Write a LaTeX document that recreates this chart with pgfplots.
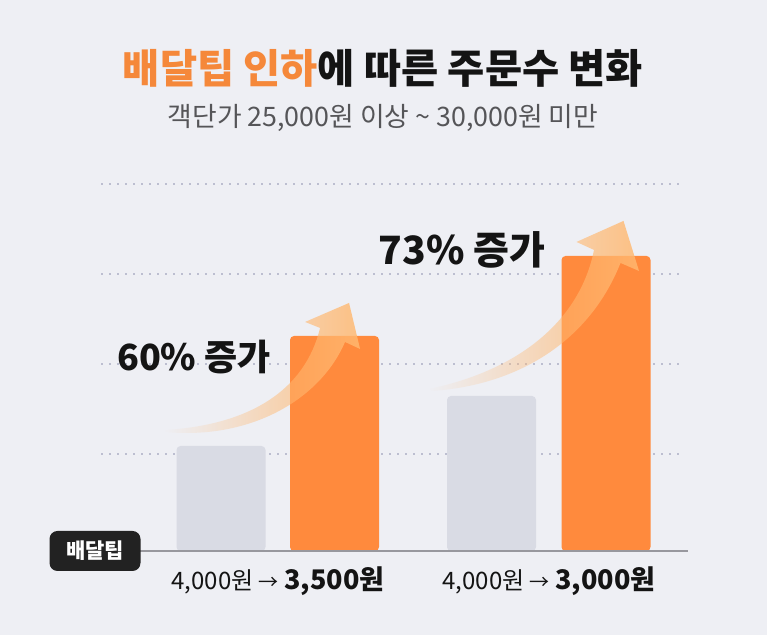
\documentclass[border=0pt]{standalone}
\usepackage{fontspec}
\setmainfont{Noto Sans CJK KR}
\usepackage{pgfplots}
\pgfplotsset{compat=1.18}
\usetikzlibrary{fadings}

\definecolor{bg}{RGB}{238,239,244}
\definecolor{barorange}{RGB}{255,138,61}
\definecolor{bargrey}{RGB}{217,219,228}
\definecolor{griddot}{RGB}{188,190,208}
\definecolor{basecol}{RGB}{152,152,158}
\definecolor{titleorange}{RGB}{245,136,58}
\definecolor{arrowc}{RGB}{255,184,112}
\definecolor{subgrey}{RGB}{85,85,88}
\definecolor{boxcol}{RGB}{34,34,34}
\definecolor{ink}{RGB}{20,20,20}

\tikzfading[name=fade tail, left color=transparent!100, middle color=transparent!45, right color=transparent!0]

\pgfplotsset{guide/.style={griddot, line width=1pt, dash pattern=on 1pt off 3pt}}

\begin{document}
\begin{tikzpicture}
% background, 1px = 0.5pt
\fill[bg] (0,0) rectangle (383.5pt,317.5pt);
\begin{axis}[
  at={(0,0)}, anchor=south west,
  width=383.5pt, height=317.5pt, scale only axis,
  xmin=0, xmax=767, ymin=-84, ymax=551,
  hide axis, clip=false,
]
% dotted guide lines
\addplot[guide] coordinates {(101,97) (680,97)};
\addplot[guide] coordinates {(101,187) (680,187)};
\addplot[guide] coordinates {(101,277) (680,277)};
\addplot[guide] coordinates {(101,367) (680,367)};

% bars
\addplot[ybar, bar width=89, fill=bargrey, draw=none, rounded corners=2pt] coordinates {(221,105) (491.5,155)};
\addplot[ybar, bar width=89, fill=barorange, draw=none, rounded corners=2pt] coordinates {(334.5,215) (606,295)};

% baseline
\addplot[basecol, line width=1pt] coordinates {(140,0) (688,0)};

% rising arrows
\fill[arrowc, path fading=fade tail, fill opacity=0.85]
  (axis cs:165,121) .. controls (axis cs:250,126) and (axis cs:305,161) .. (axis cs:320,223)
  -- (axis cs:305,229) -- (axis cs:349,248) -- (axis cs:360,202) -- (axis cs:345,209)
  .. controls (axis cs:320,151) and (axis cs:250,111) .. (axis cs:165,119) -- cycle;
\fill[arrowc, path fading=fade tail, fill opacity=0.85]
  (axis cs:429,162) .. controls (axis cs:520,181) and (axis cs:580,231) .. (axis cs:594,301)
  -- (axis cs:576.5,309) -- (axis cs:623.5,330) -- (axis cs:639,280) -- (axis cs:620.5,288)
  .. controls (axis cs:590,211) and (axis cs:520,166) .. (axis cs:432,160) -- cycle;

% titles
\node[font=\fontsize{20.2pt}{22pt}\selectfont\bfseries, text=ink] at (axis cs:383,483)
  {{\color{titleorange}배달팁 인하}에 따른 주문수 변화};
\node[font=\fontsize{13.4pt}{15pt}\selectfont, text=subgrey] at (axis cs:383,433)
  {객단가 25,000원 이상 \textasciitilde{} 30,000원 미만};

% increase labels
\node[font=\fontsize{18pt}{20pt}\selectfont\bfseries, text=ink] at (axis cs:194,194) {60\% 증가};
\node[font=\fontsize{19.5pt}{21pt}\selectfont\bfseries, text=ink] at (axis cs:462,301) {73\% 증가};

% category labels
\node[font=\fontsize{12pt}{14pt}\selectfont, text=ink] at (axis cs:278,-30)
  {4,000원 {\fontsize{10pt}{12pt}\selectfont →} {\fontsize{13.5pt}{15pt}\selectfont\bfseries 3,500원}};
\node[font=\fontsize{12pt}{14pt}\selectfont, text=ink] at (axis cs:549,-30)
  {4,000원 {\fontsize{10pt}{12pt}\selectfont →} {\fontsize{13.5pt}{15pt}\selectfont\bfseries 3,000원}};

% tip badge
\node[fill=boxcol, rounded corners=4pt, minimum width=45.5pt, minimum height=20pt, inner sep=0pt,
  text=white, font=\fontsize{10.5pt}{12pt}\selectfont\bfseries] at (axis cs:95,0) {배달팁};
\end{axis}
\end{tikzpicture}
\end{document}
